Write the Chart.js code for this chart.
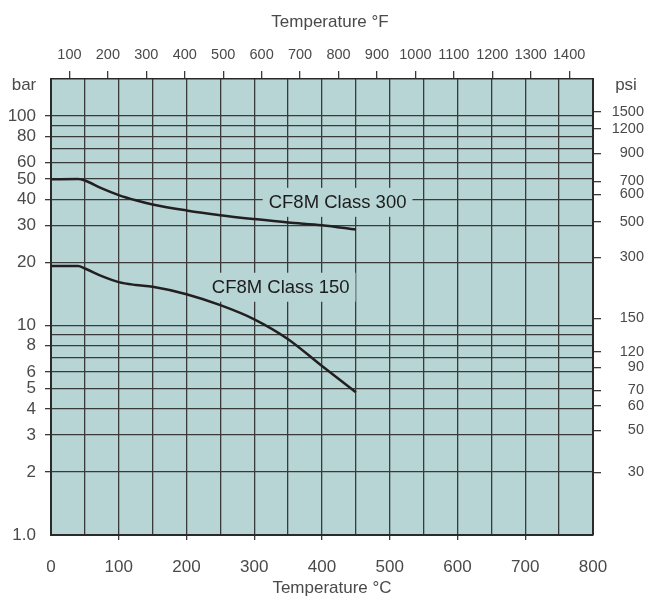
<!DOCTYPE html>
<html>
<head>
<meta charset="utf-8">
<script src="https://cdn.jsdelivr.net/npm/chart.js@4.4.1/dist/chart.umd.min.js"></script>
<style>
  html, body { margin: 0; padding: 0; background: #fff; }
  #wrap { width: 648px; height: 606px; }
</style>
</head>
<body>
<div id="wrap"><canvas id="chart" width="648" height="606"></canvas></div>
<script>
// temperature points (°C)
const tempC = [0, 40, 50, 75, 100, 125, 150, 200, 250, 300, 350, 400, 450];
// pressure in bar
const class300 = [49.8, 50.0, 49.2, 45.1, 41.9, 39.6, 37.8, 35.4, 33.6, 32.2, 31.0, 30.1, 28.7];
const class150 = [19.2, 19.2, 18.7, 17.2, 16.1, 15.6, 15.3, 14.1, 12.5, 10.7, 8.6, 6.4, 4.8];

// axis ticks
const barTicks = [1, 2, 3, 4, 5, 6, 7, 8, 9, 10, 20, 30, 40, 50, 60, 70, 80, 90, 100];
const barUnlabelled = [7, 9, 70, 90];
const fahrenheitTicks = [100, 200, 300, 400, 500, 600, 700, 800, 900, 1000, 1100, 1200, 1300, 1400];
// psi labels on the right and where they sit on the bar scale
const psiLabels = [30, 50, 60, 70, 90, 120, 150, 300, 500, 600, 700, 900, 1200, 1500];
const psiAtBar = [1.99, 3.16, 4.14, 4.90, 6.32, 7.48, 10.8, 21.1, 31.2, 42.3, 48.7, 66.3, 86.6, 104.9];

// curve names and where their labels go (°C, bar)
const curveNames = ['CF8M Class 300', 'CF8M Class 150'];
const labelAt = [[423, 38.9], [339, 15.3]];

const plotColor = '#b8d5d5';
const gridColor = '#3a3a3a';
const textColor = '#4a4a4a';

Chart.defaults.font.family = '"Liberation Sans", Arial, sans-serif';
Chart.defaults.color = textColor;

// paint the teal plot area
const plotBg = {
  id: 'plotBg',
  beforeDraw(chart) {
    const { ctx, chartArea: a } = chart;
    ctx.save();
    ctx.fillStyle = plotColor;
    ctx.fillRect(a.left, a.top, a.width, a.height);
    ctx.restore();
  }
};

// curve names with a plot coloured box behind them
const curveLabels = {
  id: 'curveLabels',
  beforeDatasetsDraw(chart) {
    const ctx = chart.ctx;
    const x = chart.scales.x, y = chart.scales.y;
    ctx.save();
    ctx.font = '18.5px "Liberation Sans", Arial, sans-serif';
    ctx.textAlign = 'center';
    ctx.textBaseline = 'middle';
    for (let i = 0; i < curveNames.length; i++) {
      let px = x.getPixelForValue(labelAt[i][0]);
      let py = y.getPixelForValue(labelAt[i][1]);
      let w = ctx.measureText(curveNames[i]).width + 12;
      ctx.fillStyle = plotColor;
      ctx.fillRect(px - w / 2, py - 14, w, 29);
      ctx.fillStyle = '#1c1c1c';
      ctx.fillText(curveNames[i], px, py + 1);
    }
    ctx.restore();
  }
};

// axis titles and unit names
const titles = {
  id: 'titles',
  afterDraw(chart) {
    const ctx = chart.ctx;
    ctx.save();
    ctx.fillStyle = textColor;
    ctx.font = '17px "Liberation Sans", Arial, sans-serif';
    ctx.textAlign = 'center';
    ctx.textBaseline = 'middle';
    ctx.fillText('Temperature °F', 330, 22);
    ctx.fillText('Temperature °C', 332, 588);
    ctx.fillText('bar', 24, 85);
    ctx.fillText('psi', 626, 85);
    ctx.restore();
  }
};

const lineStyle = {
  borderColor: '#231f20',
  borderWidth: 2.5,
  pointRadius: 0,
  cubicInterpolationMode: 'monotone',
  fill: false
};

new Chart(document.getElementById('chart'), {
  type: 'line',
  data: {
    datasets: [
      Object.assign({ label: curveNames[0], data: tempC.map((t, i) => ({ x: t, y: class300[i] })) }, lineStyle),
      Object.assign({ label: curveNames[1], data: tempC.map((t, i) => ({ x: t, y: class150[i] })) }, lineStyle)
    ]
  },
  options: {
    responsive: false,
    animation: false,
    events: [],
    layout: { padding: { left: 0, top: 0, bottom: 0, right: 4 } },
    plugins: { legend: { display: false }, tooltip: { enabled: false } },
    scales: {
      x: {
        type: 'linear',
        position: 'bottom',
        min: 0,
        max: 800,
        afterFit: s => { s.height = 71; },
        ticks: {
          stepSize: 50,
          padding: 17,
          font: { size: 17 },
          maxRotation: 0,
          autoSkip: false,
          callback: v => (v % 100 === 0 ? String(v) : '')
        },
        grid: {
          color: gridColor,
          lineWidth: 1.3,
          tickLength: 5,
          tickColor: c => (c.tick && c.tick.value % 100 === 0 && c.tick.value > 0 && c.tick.value < 800 ? gridColor : 'transparent')
        },
        border: { color: '#2a2a2a', width: 2 }
      },
      xF: {
        type: 'linear',
        position: 'top',
        min: 52,
        max: 1462,
        afterFit: s => { s.height = 79; },
        afterBuildTicks: s => { s.ticks = fahrenheitTicks.map(v => ({ value: v })); },
        ticks: {
          padding: 7,
          font: { size: 14.5 },
          maxRotation: 0,
          autoSkip: false,
          callback: v => String(v)
        },
        grid: { drawOnChartArea: false, tickLength: 8, color: gridColor, lineWidth: 1.3 },
        border: { color: '#2a2a2a', width: 1.5 }
      },
      y: {
        type: 'logarithmic',
        position: 'left',
        min: 1,
        max: 150,
        afterFit: s => { s.width = 51; },
        afterBuildTicks: s => { s.ticks = barTicks.map(v => ({ value: v })); },
        ticks: {
          padding: 9,
          font: { size: 17 },
          autoSkip: false,
          callback: v => (v === 1 ? '1.0' : (barUnlabelled.includes(v) ? '' : String(v)))
        },
        grid: {
          color: gridColor,
          lineWidth: 1.3,
          tickLength: 6,
          tickColor: c => (c.tick && c.tick.value > 1 && !barUnlabelled.includes(c.tick.value) ? gridColor : 'transparent')
        },
        border: { color: '#2a2a2a', width: 2 }
      },
      yPsi: {
        type: 'logarithmic',
        position: 'right',
        min: 1,
        max: 150,
        afterFit: s => { s.width = 51; },
        afterBuildTicks: s => { s.ticks = psiAtBar.map(v => ({ value: v })); },
        ticks: {
          padding: 6,
          crossAlign: 'far',
          font: { size: 14.5 },
          autoSkip: false,
          callback: (v, i) => String(psiLabels[i])
        },
        grid: { drawOnChartArea: false, tickLength: 8, color: gridColor, lineWidth: 1.3 },
        border: { color: '#2a2a2a', width: 2 }
      }
    }
  },
  plugins: [plotBg, curveLabels, titles]
});
</script>
</body>
</html>
